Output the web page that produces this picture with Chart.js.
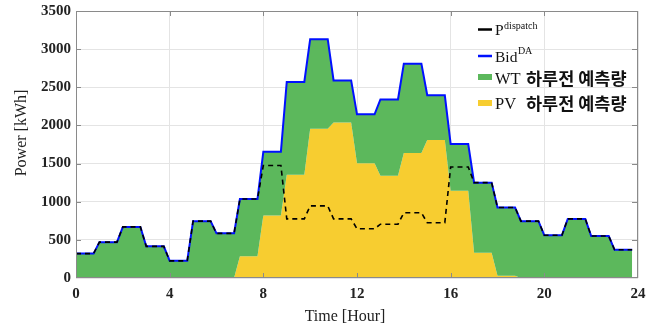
<!DOCTYPE html>
<html>
<head>
<meta charset="utf-8">
<script src="https://cdn.jsdelivr.net/npm/chart.js@4.4.0/dist/chart.umd.min.js"></script>
<style>
  body { margin: 0; background: #fff; }
  #wrap { width: 663px; height: 332px; }
</style>
</head>
<body>
<div id="wrap"><canvas id="mycanvas" width="663" height="332"></canvas></div>
<script>
// hourly values (kWh)
var hours = [0,1,2,3,4,5,6,7,8,9,10,11,12,13,14,15,16,17,18,19,20,21,22,23];
var bidDA = [320,470,670,415,225,745,585,1035,1655,2570,3130,2590,2145,2340,2810,2395,1755,1250,925,745,560,775,550,370];
var pvForecast = [0,0,0,0,0,0,0,285,820,1355,1955,2040,1505,1340,1640,1810,1145,330,30,0,0,0,0,0];
var pDispatch = [320,470,670,415,225,745,585,1035,1475,775,945,775,645,705,855,725,1455,1250,925,745,560,775,550,370];

var xTicks = [0,4,8,12,16,20,24];
var yMax = 3500, yStep = 500;

// each hour is held flat for 45 min, then ramps to the next hour
function steps(arr) {
    var pts = [];
    for (var i in arr) {
        pts.push({x: hours[i], y: arr[i]});
        pts.push({x: hours[i] + 0.75, y: arr[i]});
    }
    return pts;
}

var serif = "'Liberation Serif', 'Times New Roman', serif";

var framePlugin = {
    id: 'frame',
    afterDraw: function(chart) {
        var ctx = chart.ctx, a = chart.chartArea;
        var xs = chart.scales.x, ys = chart.scales.y;
        ctx.save();
        ctx.strokeStyle = '#8a8a8a';
        ctx.lineWidth = 1;
        ctx.strokeRect(a.left + 0.5, a.top + 0.5, a.right - a.left - 1, a.bottom - a.top - 1);
        ctx.beginPath();
        for (var v = yStep; v < yMax; v += yStep) {
            var py = Math.round(ys.getPixelForValue(v)) + 0.5;
            ctx.moveTo(a.left, py); ctx.lineTo(a.left + 5, py);
            ctx.moveTo(a.right, py); ctx.lineTo(a.right - 6, py);
        }
        for (var k = 1; k < xTicks.length - 1; k++) {
            var px = Math.round(xs.getPixelForValue(xTicks[k])) + 0.5;
            ctx.moveTo(px, a.bottom); ctx.lineTo(px, a.bottom - 5);
            ctx.moveTo(px, a.top); ctx.lineTo(px, a.top + 5);
        }
        ctx.stroke();

        // axis titles
        ctx.fillStyle = '#222';
        ctx.font = '16px ' + serif;
        ctx.textAlign = 'center';
        ctx.textBaseline = 'middle';
        ctx.fillText('Time [Hour]', 345, 317);
        ctx.translate(22, 133);
        ctx.rotate(-Math.PI / 2);
        ctx.fillText('Power [kWh]', 0, 0);
        ctx.restore();

        // legend
        ctx.save();
        ctx.textAlign = 'left';
        ctx.textBaseline = 'alphabetic';
        ctx.fillStyle = '#111';
        ctx.lineWidth = 2.5;
        ctx.strokeStyle = '#000';
        ctx.beginPath(); ctx.moveTo(478, 29.5); ctx.lineTo(492, 29.5); ctx.stroke();
        ctx.font = '15.5px ' + serif;
        ctx.fillText('P', 495, 35);
        var w = ctx.measureText('P').width;
        ctx.font = '10px ' + serif;
        ctx.fillText('dispatch', 495 + w + 0.5, 29);

        ctx.strokeStyle = '#0010ff';
        ctx.beginPath(); ctx.moveTo(478, 56); ctx.lineTo(492, 56); ctx.stroke();
        ctx.font = '15.5px ' + serif;
        ctx.fillText('Bid', 495, 61.5);
        w = ctx.measureText('Bid').width;
        ctx.font = '10px ' + serif;
        ctx.fillText('DA', 495 + w + 0.5, 54);

        ctx.fillStyle = '#5cb85c';
        ctx.fillRect(478, 74, 14, 6);
        ctx.fillStyle = '#f7cd30';
        ctx.fillRect(478, 100, 14, 6);
        ctx.fillStyle = '#111';
        ctx.font = '16.5px ' + serif;
        ctx.fillText('WT', 495, 83.5);
        ctx.fillText('PV', 495, 108.5);
        ctx.font = "bold 17.5px 'Noto Sans CJK KR'";
        ctx.fillText('하루전 예측량', 526, 84.5);
        ctx.fillText('하루전 예측량', 526, 109.5);
        ctx.restore();
    }
};

var chartdata = {
    datasets: [
        {
            label: 'P dispatch',
            data: steps(pDispatch),
            borderColor: '#000',
            borderWidth: 1.6,
            borderDash: [5, 4],
            fill: false,
            order: 0
        },
        {
            label: 'Bid DA',
            data: steps(bidDA),
            borderColor: '#0010ff',
            borderWidth: 2,
            fill: false,
            order: 1
        },
        {
            label: 'WT 하루전 예측량',
            data: steps(bidDA),
            borderWidth: 0,
            backgroundColor: '#5cb85c',
            fill: '+1',
            order: 2
        },
        {
            label: 'PV 하루전 예측량',
            data: steps(pvForecast),
            borderWidth: 0,
            backgroundColor: '#f7cd30',
            fill: 'origin',
            order: 3
        }
    ]
};

var ctx = document.getElementById('mycanvas');

var LineGraph = new Chart(ctx, {
    type: 'line',
    data: chartdata,
    options: {
        responsive: false,
        animation: false,
        events: [],
        elements: { point: { radius: 0 }, line: { tension: 0 } },
        layout: { padding: { top: 11, right: 25, left: 0, bottom: 0 } },
        plugins: { legend: { display: false }, tooltip: { enabled: false } },
        scales: {
            x: {
                type: 'linear',
                min: 0, max: 24,
                afterFit: function(s) { s.height = 54; s.paddingLeft = 0; s.paddingRight = 0; },
                afterBuildTicks: function(s) { s.ticks = xTicks.map(function(v) { return {value: v}; }); },
                grid: { color: '#e4e4e4', drawTicks: false },
                border: { display: false },
                ticks: { padding: 7, color: '#222', font: { family: serif, size: 15, weight: 'bold' } }
            },
            y: {
                min: 0, max: yMax,
                afterFit: function(s) { s.width = 76; s.paddingTop = 0; s.paddingBottom = 0; },
                grid: { color: '#e4e4e4', drawTicks: false },
                border: { display: false },
                ticks: {
                    stepSize: yStep, padding: 5, color: '#222',
                    font: { family: serif, size: 15, weight: 'bold' },
                    callback: function(v) { return String(v); }
                }
            }
        }
    },
    plugins: [framePlugin]
});
</script>
</body>
</html>
